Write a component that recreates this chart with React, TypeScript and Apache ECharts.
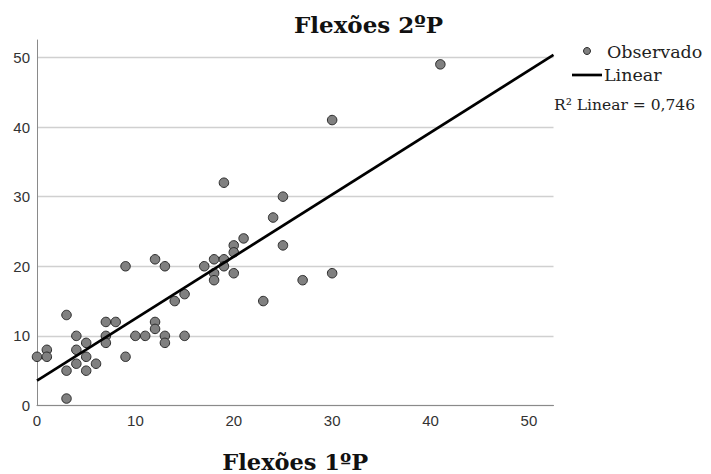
import React, { useEffect, useRef } from 'react';
import * as echarts from 'echarts';

// Observed values (Flexões 1ºP on x, Flexões 2ºP on y)
const flexoes1P = [0, 1, 1, 3, 3, 3, 4, 4, 4, 5, 5, 5, 6, 7, 7, 7, 8, 9, 9, 10, 11, 12, 12, 12, 13, 13, 13, 14, 15, 15, 17, 18, 18, 18, 19, 19, 19, 20, 20, 20, 21, 23, 24, 25, 25, 27, 30, 30, 41];
const flexoes2P = [7, 8, 7, 13, 5, 1, 10, 8, 6, 9, 7, 5, 6, 12, 10, 9, 12, 20, 7, 10, 10, 21, 12, 11, 20, 10, 9, 15, 16, 10, 20, 21, 19, 18, 21, 20, 32, 23, 22, 19, 24, 15, 27, 30, 23, 18, 41, 19, 49];

const AXIS_MIN = 0;
const AXIS_MAX = 52.5;
const TICK_INTERVAL = 10;

const TITLE = 'Flexões 2ºP';
const X_NAME = 'Flexões 1ºP';
const LEGEND_OBS = 'Observado';
const LEGEND_LIN = 'Linear';
const R2_LABEL = 'R² Linear = 0,746';

const SANS = "'Liberation Sans', Arial, sans-serif";
const SERIF = "'DejaVu Serif', Georgia, serif";

function linearFit(xs: number[], ys: number[]) {
  const n = xs.length;
  const mx = xs.reduce((a, b) => a + b, 0) / n;
  const my = ys.reduce((a, b) => a + b, 0) / n;
  let sxy = 0;
  let sxx = 0;
  for (let i = 0; i < n; i++) {
    sxy += (xs[i] - mx) * (ys[i] - my);
    sxx += (xs[i] - mx) * (xs[i] - mx);
  }
  const slope = sxy / sxx;
  return { slope, intercept: my - slope * mx };
}

export default function App() {
  const ref = useRef<HTMLDivElement>(null);

  useEffect(() => {
    if (!ref.current) return;
    const chart = echarts.init(ref.current, undefined, { renderer: 'svg' });
    const points = flexoes1P.map((x, i) => [x, flexoes2P[i]]);
    const { slope, intercept } = linearFit(flexoes1P, flexoes2P);
    const fitLine = [
      [AXIS_MIN, intercept + slope * AXIS_MIN],
      [AXIS_MAX, intercept + slope * AXIS_MAX],
    ];
    const labelFmt = (v: number) => (v % TICK_INTERVAL === 0 ? String(v) : '');
    const gridColors = ['#d0d0d0', '#d0d0d0', '#d0d0d0', '#d0d0d0', '#d0d0d0', '#d0d0d0', 'rgba(0,0,0,0)'];

    chart.setOption({
      animation: false,
      backgroundColor: '#ffffff',
      grid: { left: 37, right: 157.5, top: 40, bottom: 68.5, containLabel: false, outerBoundsMode: 'none' },
      xAxis: {
        type: 'value',
        min: AXIS_MIN,
        max: AXIS_MAX,
        interval: TICK_INTERVAL,
        axisLine: { show: true, onZero: false, lineStyle: { color: '#8a8a8a', width: 1 } },
        axisTick: { show: false },
        splitLine: { show: false },
        axisLabel: { formatter: labelFmt, fontFamily: SANS, fontSize: 15, color: '#333', margin: 7 },
        name: X_NAME,
        nameLocation: 'middle',
        nameGap: 46,
        nameTextStyle: { fontFamily: SERIF, fontWeight: 'bold', fontSize: 22.5, lineHeight: 20, color: '#111' },
      },
      yAxis: {
        type: 'value',
        min: AXIS_MIN,
        max: AXIS_MAX,
        interval: TICK_INTERVAL,
        axisLine: { show: true, onZero: false, lineStyle: { color: '#8a8a8a', width: 1 } },
        axisTick: { show: false },
        splitLine: { show: true, lineStyle: { color: gridColors, width: 1.3 } },
        axisLabel: { formatter: labelFmt, fontFamily: SANS, fontSize: 15, color: '#333', margin: 7 },
      },
      series: [
        {
          name: LEGEND_OBS,
          type: 'scatter',
          data: points,
          symbol: 'circle',
          symbolSize: 9.5,
          itemStyle: { color: '#808080', borderColor: '#2a2a2a', borderWidth: 1, opacity: 1 },
          z: 2,
        },
        {
          name: LEGEND_LIN,
          type: 'line',
          data: fitLine,
          showSymbol: false,
          symbol: 'none',
          lineStyle: { color: '#000', width: 2.7 },
          z: 3,
        },
      ],
      graphic: [
        {
          type: 'text',
          x: 368.5,
          y: 24,
          style: { text: TITLE, align: 'center', verticalAlign: 'middle', fontFamily: SERIF, fontWeight: 'bold', fontSize: 23, fill: '#111' },
        },
        {
          type: 'circle',
          shape: { cx: 587, cy: 51, r: 3.5 },
          style: { fill: '#808080', stroke: '#2a2a2a', lineWidth: 1 },
        },
        {
          type: 'text',
          x: 607,
          y: 52,
          style: { text: LEGEND_OBS, align: 'left', verticalAlign: 'middle', fontFamily: SERIF, fontSize: 17.5, fill: '#222' },
        },
        {
          type: 'line',
          shape: { x1: 572, y1: 75, x2: 602, y2: 75 },
          style: { stroke: '#000', lineWidth: 2.7 },
        },
        {
          type: 'text',
          x: 604,
          y: 75,
          style: { text: LEGEND_LIN, align: 'left', verticalAlign: 'middle', fontFamily: SERIF, fontSize: 17.5, fill: '#222' },
        },
        {
          type: 'text',
          x: 554,
          y: 105,
          style: { text: R2_LABEL, align: 'left', verticalAlign: 'middle', fontFamily: SERIF, fontSize: 15.5, fill: '#222' },
        },
      ],
    });
    return () => chart.dispose();
  }, []);

  return <div ref={ref} style={{ position: 'fixed', left: 0, top: 0, width: 711, height: 474 }} />;
}
